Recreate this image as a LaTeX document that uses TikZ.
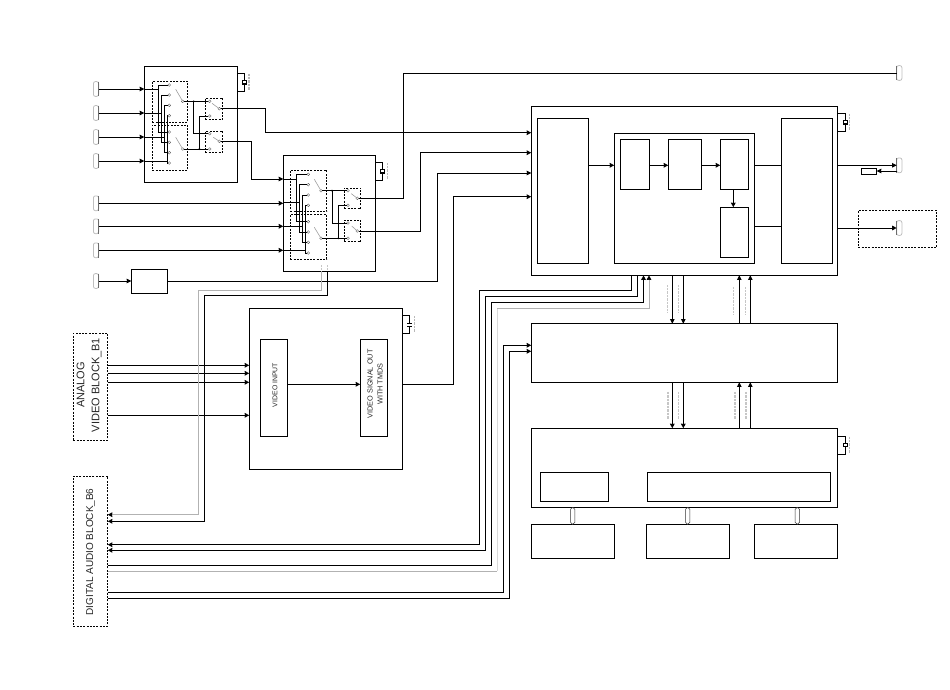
\documentclass[tikz,border=0pt]{standalone}
\usepackage{fontspec}
\setmainfont{Liberation Sans}
\usetikzlibrary{arrows.meta}
\newcommand{\bx}[6]{%
  \pgfmathsetmacro{\mybw}{#5-#3}\pgfmathsetmacro{\mybh}{#6-#4}%
  \node[#2,minimum width=\mybw pt,minimum height=\mybh pt,anchor=north west] (#1) at (#3,#4) {};}
\tikzset{
  box/.style={draw=black,line width=.9pt,inner sep=0pt,outer sep=0pt},
  dbox/.style={draw=black,line width=.8pt,dash pattern=on 2pt off 1.3pt,inner sep=0pt,outer sep=0pt},
  wire/.style={draw=black,line width=.9pt},
  gwire/.style={draw=gray!60,line width=1pt},
  lwire/.style={draw=gray!30,line width=1.6pt},
  arr/.style={-{Stealth[black,length=4.6pt,width=4.6pt,inset=.2pt]}},
  term/.style={circle,draw=gray!80!black,fill=white,line width=.4pt,minimum size=2.8pt,inner sep=0pt,outer sep=0pt},
  blade/.style={draw=gray!75,line width=.6pt},
  dotj/.style={circle,fill=black,minimum size=2pt,inner sep=0pt,outer sep=0pt},
  conn/.style={draw=gray!50,line width=.8pt,rounded corners=2pt,minimum width=5.2pt,minimum height=14.8pt,inner sep=0pt,outer sep=0pt},
  capbox/.style={draw=black,fill=white,line width=1.1pt,minimum width=4pt,minimum height=3.4pt,inner sep=0pt,outer sep=0pt},
  capbar/.style={draw=black,line width=1pt},
  micro/.style={draw=gray!55,line width=1.4pt,dash pattern=on .9pt off .5pt},
  lab/.style={inner sep=0pt,outer sep=0pt,text=black!85,align=center},
  dbl/.style={draw=black!80,line width=.5pt,fill=white}
}
\begin{document}
\begin{tikzpicture}[x=1pt,y=-1pt]
\useasboundingbox (0,0) rectangle (950,690);

% ---------- boxes ----------
\bx{boxA}{box}{144.3}{66.3}{237.3}{182.3}
\bx{dA1}{dbox}{152.3}{81.3}{187.7}{122.3}
\bx{dA2}{dbox}{152.3}{125}{187.7}{170.3}
\bx{sA1}{dbox}{205.3}{98.3}{222.7}{119.3}
\bx{sA2}{dbox}{205.3}{131.3}{222.7}{152.3}
\bx{boxB}{box}{283.3}{155}{375.7}{271.3}
\bx{dB1}{dbox}{290.3}{170}{326.7}{211.7}
\bx{dB2}{dbox}{290.3}{214.3}{326.7}{259.3}
\bx{sB1}{dbox}{344.3}{188}{360.7}{208.7}
\bx{sB2}{dbox}{344.3}{220.3}{360.7}{241.7}
\bx{small}{box}{131.3}{269.3}{167.7}{293.3}
\bx{boxC}{box}{249.3}{308.3}{402.7}{469.3}
\bx{vin}{box}{260.3}{339.3}{287.7}{436.3}
\bx{vout}{box}{360.3}{339.3}{387.3}{436.3}
\bx{ana}{dbox}{73.3}{333.3}{107.7}{440.3}
\bx{dig}{dbox}{73.3}{476}{107.7}{626.3}
\bx{M}{box}{531.3}{106.3}{837.3}{275.3}
\bx{mL}{box}{537.3}{118.3}{588.3}{263.3}
\bx{mC}{box}{614.3}{133.3}{754.3}{263.3}
\bx{s1}{box}{620.3}{139.3}{649.3}{189.3}
\bx{s2}{box}{668.3}{139.3}{701.7}{189.3}
\bx{s3}{box}{720.3}{139.3}{748.7}{189.3}
\bx{s4}{box}{720.3}{207.3}{748.7}{257.3}
\bx{mR}{box}{781}{118.3}{832.3}{263.3}
\bx{N}{box}{531.3}{323.7}{837.3}{382.3}
\bx{O}{box}{531.3}{428.3}{837.3}{507.3}
\bx{o1}{box}{540.3}{472.3}{608.7}{501.3}
\bx{o2}{box}{647.3}{472.3}{830.7}{501.3}
\bx{b1}{box}{531.3}{524.3}{614.7}{558.3}
\bx{b2}{box}{646.3}{524.3}{729.3}{558.3}
\bx{b3}{box}{754.3}{524.3}{837.7}{558.3}
\bx{res}{box}{861.3}{168}{876.7}{174.3}
\bx{dR}{dbox}{858.3}{210.3}{936.7}{247.3}

% ---------- connectors (edge plugs) ----------
\foreach \n/\y in {iA1/89,iA2/113,iA3/137,iA4/161,iB1/203.3,iB2/226.3,iB3/250.3,iS/281}{
  \node[conn] (\n) at (96,\y) {};
  \draw[draw=gray!85!black,line width=.7pt] (\n.north east) -- (\n.south east);
}
\foreach \n/\y in {oT/73,oM/165.3,oR/228}{
  \node[conn] (\n) at (899.3,\y) {};
  \draw[draw=gray!85!black,line width=.7pt] (\n.north west) -- (\n.south west);
}

% ---------- switch terminals ----------
\foreach \n/\y in {U1/85,U2/95,U3/105.3,U4/115.7,L1/132,L2/142.3,L3/152.7,L4/163}{
  \node[term] (a\n) at (169.3,\y) {};
}
\node[term] (aPU) at (182.7,101.3) {};
\node[term] (aPL) at (182.7,149) {};
\node[term] (aQ1) at (209.7,101.3) {};
\node[term] (aQ2) at (209.7,116) {};
\node[term] (aQ3) at (209.7,133.7) {};
\node[term] (aQ4) at (209.7,149) {};
\node[term] (aR1) at (219.3,108.7) {};
\node[term] (aR2) at (219.3,141.3) {};
\foreach \n/\y in {U1/174.3,U2/184.7,U3/195,U4/205.3,L1/221.7,L2/232,L3/242.3,L4/253}{
  \node[term] (b\n) at (308.3,\y) {};
}
\node[term] (bPU) at (321,190.7) {};
\node[term] (bPL) at (321,238.3) {};
\node[term] (bQ1) at (348,190.7) {};
\node[term] (bQ2) at (348,205.3) {};
\node[term] (bQ3) at (348,223) {};
\node[term] (bQ4) at (348,238.3) {};
\node[term] (bR1) at (357.3,198.3) {};
\node[term] (bR2) at (357.3,231) {};

% ---------- switch blades ----------
\coordinate (ba1) at (175.7,89.3);  \draw[blade] (ba1) -- (aPU);
\coordinate (ba2) at (175.7,137.3); \draw[blade] (ba2) -- (aPL);
\coordinate (ba3) at (212,103.3);   \draw[blade] (ba3) -- (aR1);
\coordinate (ba4) at (213.3,137.3); \draw[blade] (ba4) -- (aR2);
\coordinate (bb1) at (314.3,179.3); \draw[blade] (bb1) -- (bPU);
\coordinate (bb2) at (314.3,227.3); \draw[blade] (bb2) -- (bPL);
\coordinate (bb3) at (351.3,193.7); \draw[blade] (bb3) -- (bR1);
\coordinate (bb4) at (351.7,226);   \draw[blade] (bb4) -- (bR2);

% ---------- block A wiring ----------
\foreach \n/\x/\u/\l in {iA1/158/aU1/aL1,iA2/161.3/aU2/aL2,iA3/164.7/aU3/aL3,iA4/167.2/aU4/aL4}{
  \coordinate (col) at (\x,0);
  \draw[wire,arr] (\n.east) -- (\n -| boxA.west);
  \draw[wire] (\n -| boxA.west) -- (\n -| col);
  \draw[wire] (\u.west) -- (\u -| col) -- (\l -| col) -- (\l.west);
}
\coordinate (ja1) at (193.7,101.3);
\coordinate (ja2) at (199.3,149);
\draw[wire] (aPU.east) -- (aQ1.west);
\draw[wire] (ja1) |- (aQ3.west);
\draw[wire] (aPL.east) -- (aQ4.west);
\draw[wire] (ja2) |- (aQ2.west);
\node[dotj] (jna1) at (ja1) {};
\node[dotj] (jna2) at (ja2) {};

% ---------- block B wiring ----------
\coordinate (i1) at (283.3,179);
\coordinate (i2) at (283.3,202.7);
\coordinate (i3) at (283.3,226.3);
\coordinate (i4) at (283.3,250);
\foreach \p/\x/\u/\l in {i1/296.7/bU1/bL1,i2/299.3/bU2/bL2,i3/302/bU3/bL3,i4/305.3/bU4/bL4}{
  \coordinate (col) at (\x,0);
  \draw[wire] (\p) -- (\p -| col);
  \draw[wire] (\u.west) -- (\u -| col) -- (\l -| col) -- (\l.west);
}
\coordinate (jb1) at (332,190.7);
\coordinate (jb2) at (338.3,238.3);
\draw[wire] (bPU.east) -- (bQ1.west);
\draw[wire] (jb1) |- (bQ3.west);
\draw[wire] (bPL.east) -- (bQ4.west);
\draw[wire] (jb2) |- (bQ2.west);
\node[dotj] (jnb1) at (jb1) {};
\node[dotj] (jnb2) at (jb2) {};

% entries into box B
\draw[wire,arr] (iB1.east) -- (iB1 -| boxB.west);
\draw[wire,arr] (iB2.east) -- (iB2 -| boxB.west);
\draw[wire,arr] (iB3.east) -- (iB3 -| boxB.west);
\coordinate (ta1) at (265,108.7);
\coordinate (ta2) at (251.3,141.3);
\coordinate (mi1) at (531.3,132.7);
\draw[wire] (aR1.east) -- (ta1) -- (ta1 |- mi1);
\draw[wire,arr] (ta1 |- mi1) -- (mi1);
\draw[wire] (aR2.east) -- (ta2) -- (ta2 |- i1);
\draw[wire,arr] (ta2 |- i1) -- (i1);

% small block
\draw[wire,arr] (iS.east) -- (small.west |- iS);
\coordinate (tS) at (437,281);
\coordinate (mi3) at (531.3,173);
\draw[wire] (small.east |- iS) -- (tS) -- (tS |- mi3);
\draw[wire,arr] (tS |- mi3) -- (mi3);

% box B outputs
\coordinate (tB1) at (403.7,198.3);
\draw[wire] (bR1.east) -- (tB1) |- (oT.west);
\coordinate (tB2) at (420,231);
\coordinate (mi2) at (531.3,152.7);
\draw[wire] (bR2.east) -- (tB2) -- (tB2 |- mi2);
\draw[wire,arr] (tB2 |- mi2) -- (mi2);

% ---------- block C ----------
\foreach \y in {365.3,373.3,382.3,415.3}{
  \draw[wire,arr] (ana.east |- 0,\y) -- (boxC.west |- 0,\y);
}
\draw[wire,arr] (vin.east |- 0,384.3) -- (vout.west |- 0,384.3);
\coordinate (tC) at (453,384.3);
\coordinate (mi4) at (531.3,196.7);
\draw[wire] (boxC.east |- tC) -- (tC) -- (tC |- mi4);
\draw[wire,arr] (tC |- mi4) -- (mi4);
\node[lab,rotate=90,font=\fontsize{6.9}{9}\selectfont] (tVI) at (275,385) {VIDEO INPUT};
\node[lab,rotate=90,font=\fontsize{7.3}{10}\selectfont] (tVO) at (375,384) {VIDEO SIGNAL OUT\\WITH TMDS};
\node[lab,rotate=90,font=\fontsize{11}{15}\selectfont] (tAN) at (89.2,385) {ANALOG\\VIDEO BLOCK\_B1};
\node[lab,rotate=90,font=\fontsize{10}{15}\selectfont] (tDG) at (90.7,552) {DIGITAL AUDIO BLOCK\_B6};

% ---------- gray / black lines from box B to digital block ----------
\coordinate (gA) at (321.3,271.3); \coordinate (gB) at (198.3,290); \coordinate (gC) at (107.7,514.7);
\coordinate (kA) at (327.3,271.3); \coordinate (kB) at (204.3,295.3); \coordinate (kC) at (107.7,521.3);
\draw[gwire,arr] (gA) |- (gB) -- (gB |- gC) -- (gC);
\draw[wire,arr] (kA) |- (kB) -- (kB |- kC) -- (kC);

% ---------- main block inner arrows ----------
\coordinate (r1) at (0,165.3);
\draw[wire,arr] (mL.east |- r1) -- (mC.west |- r1);
\draw[wire,arr] (s1.east |- r1) -- (s2.west |- r1);
\draw[wire,arr] (s2.east |- r1) -- (s3.west |- r1);
\coordinate (v4) at (733.3,0);
\draw[wire,arr] (s3.south -| v4) -- (s4.north -| v4);
\draw[wire] (mC.east |- r1) -- (mR.west |- r1);
\draw[wire] (mC.east |- 0,226.3) -- (mR.west |- 0,226.3);
\draw[wire,arr] (M.east |- oM) -- (oM.west);
\draw[wire,arr] (M.east |- oR) -- (oR.west);
\coordinate (rl) at (896.7,171);
\draw[wire,arr] (rl) -- (res.east |- rl);

% ---------- buses between main, N and O ----------
\foreach \x in {672.3,683.3}{
  \draw[wire,arr] (M.south -| \x,0) -- (N.north -| \x,0);
  \draw[wire,arr] (N.south -| \x,0) -- (O.north -| \x,0);
}
\foreach \x in {739.3,750.3}{
  \draw[wire,arr] (N.north -| \x,0) -- (M.south -| \x,0);
  \draw[wire,arr] (O.north -| \x,0) -- (N.south -| \x,0);
}
\foreach \x/\y in {667.3/285,678.7/285,733.7/287,745.7/287,668/391.7,678.7/391.7,735/391.7,746/391.7}{
  \draw[micro,draw=gray!45] (\x,\y) -- (\x,\y+27);
}

% ---------- digital block to main / N ----------
\coordinate (e1) at (479.3,290.3); \coordinate (f1) at (107.7,544.7);
\coordinate (e2) at (485.3,296.3); \coordinate (f2) at (107.7,550.3);
\coordinate (e3) at (491.3,302.3); \coordinate (f3) at (107.7,565.3);
\coordinate (e4) at (497.3,308.3); \coordinate (f4) at (107.7,571.3);
\coordinate (e5) at (503.3,345.3); \coordinate (f5) at (107.7,592.3);
\coordinate (e6) at (509.3,351.3); \coordinate (f6) at (107.7,598.3);
\draw[wire,arr] (M.south -| 631.7,0) |- (e1) -- (e1 |- f1) -- (f1);
\draw[wire,arr] (M.south -| 637.7,0) |- (e2) -- (e2 |- f2) -- (f2);
\draw[wire,arr] (f3) -- (f3 -| e3) -- (e3) -| (M.south -| 643.5,0);
\draw[lwire] (e4) -- (e4 |- f4);
\draw[gwire] (f4) -- (f4 -| e4);
\draw[gwire,arr] (e4) -| (M.south -| 649,0);
\draw[wire] (f5) -- (f5 -| e5) -- (e5);
\draw[wire,arr] (e5) -- (N.west |- e5);
\draw[wire] (f6) -- (f6 -| e6) -- (e6);
\draw[wire,arr] (e6) -- (N.west |- e6);

% ---------- double arrows ----------
\foreach \x/\t in {572.7/b1,687.7/b2,797.3/b3}{
  \coordinate (dt) at (O.south -| \x,0);
  \draw[dbl] (dt) -- ++(2.2,2) -- ++(0,13) -- ++(-2.2,2) -- ++(-2.2,-2) -- ++(0,-13) -- cycle;
}

% ---------- decoupling parts ----------
\node[capbox] (capA) at (244.7,82.3) {};
\coordinate (ca1) at (237.3,73.3); \coordinate (ca2) at (237.3,91.3);
\draw[wire] (ca1) -| (capA.north); \draw[wire] (ca2) -| (capA.south);
\draw[micro] (249,74) -- (249,90);
\node[capbox] (capB) at (382.7,171.3) {};
\coordinate (cb1) at (375.7,162.3); \coordinate (cb2) at (375.7,180.3);
\draw[wire] (cb1) -| (capB.north); \draw[wire] (cb2) -| (capB.south);
\draw[micro] (387.7,163) -- (387.7,179);
\coordinate (capC) at (409.7,325);
\coordinate (cc1) at (402.7,315.3); \coordinate (cc2) at (402.7,333.3);
\coordinate (capCt) at (409.7,323.6); \coordinate (capCb) at (409.7,326.2);
\draw[wire] (cc1) -| (capCt); \draw[wire] (cc2) -| (capCb);
\draw[capbar] (407,323.6) -- (412.4,323.6);
\draw[capbar] (407,326.2) -- (412.4,326.2);
\draw[micro] (414.7,316) -- (414.7,332);
\node[capbox] (capM) at (845.3,122.3) {};
\coordinate (cm1) at (837.3,113.3); \coordinate (cm2) at (837.3,131.3);
\draw[wire] (cm1) -| (capM.north); \draw[wire] (cm2) -| (capM.south);
\draw[micro] (849.7,114) -- (849.7,130);
\node[capbox] (capO) at (845.3,445) {};
\coordinate (co1) at (837.3,436); \coordinate (co2) at (837.3,454.3);
\draw[wire] (co1) -| (capO.north); \draw[wire] (co2) -| (capO.south);
\draw[micro] (849.7,437) -- (849.7,453);
\draw[micro,draw=gray!45,line width=1.6pt] (321.3,265) -- (321.3,270);
\draw[micro,draw=gray!45,line width=1.6pt] (327.3,265) -- (327.3,270);
\end{tikzpicture}
\end{document}
